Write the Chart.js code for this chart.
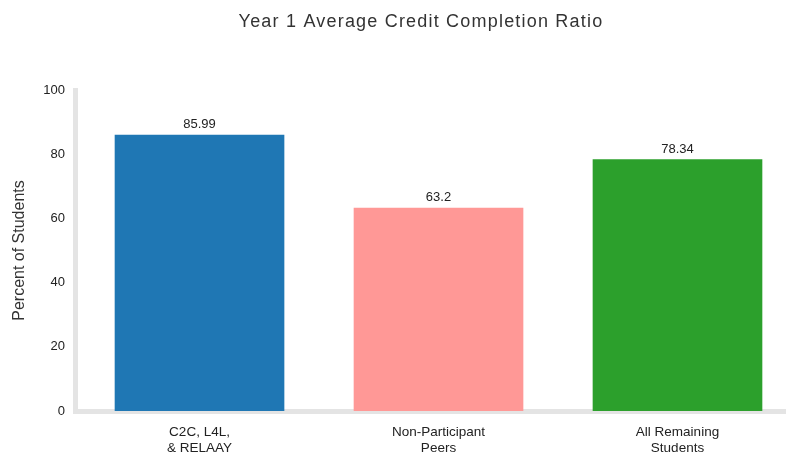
<!DOCTYPE html>
<html>
<head>
<meta charset="utf-8">
<script src="https://cdn.jsdelivr.net/npm/chart.js@4"></script>
<style>
  html, body { margin: 0; padding: 0; background: #fff; }
  #wrap { width: 786px; height: 453px; }
</style>
</head>
<body>
<div id="wrap"><canvas id="myChart"></canvas></div>
<script>
// chart data
var groups = [["C2C, L4L,", "& RELAAY"], ["Non-Participant", "Peers"], ["All Remaining", "Students"]];
var ratios = [85.99, 63.2, 78.34];
var barColors = ["#1f77b4", "#ff9896", "#2ca02c"];
var yTicks = [0, 20, 40, 60, 80, 100];

var titleText = "Year 1 Average Credit Completion Ratio";
var fontFam = "'Liberation Sans', Arial, sans-serif";

// title drawn at fixed spot, values above bars
var labelsPlugin = {
    id: "labels",
    afterDatasetsDraw: function(chart) {
        var ctx = chart.ctx;
        ctx.save();
        ctx.fillStyle = "#333";
        ctx.font = "18px " + fontFam;
        ctx.letterSpacing = "1.2px";
        ctx.textAlign = "center";
        ctx.textBaseline = "middle";
        ctx.fillText(titleText, 421, 22);
        ctx.letterSpacing = "0px";

        ctx.fillStyle = "#222";
        ctx.font = "13px " + fontFam;
        ctx.textBaseline = "bottom";
        chart.getDatasetMeta(0).data.forEach(function(bar, i) {
            ctx.fillText(String(ratios[i]), bar.x, bar.y - 4);
        });
        ctx.restore();
    }
};

var data = {
    datasets: [{
        data: ratios.map(function(v, i) { return {x: i, y: v}; }),
        backgroundColor: barColors,
        barThickness: 169,
        borderWidth: 0
    }]
};

var options = {
    responsive: true,
    maintainAspectRatio: false,
    animation: false,
    layout: { padding: { top: 90, right: 0, bottom: 0, left: 0 } },
    plugins: {
        legend: { display: false },
        title: { display: false },
        tooltip: { enabled: false }
    },
    scales: {
        x: {
            type: "linear",
            offset: false,
            min: -0.521,
            max: 2.454,
            grid: { display: false, drawTicks: false },
            border: { display: true, color: "#e4e4e4", width: 5 },
            afterBuildTicks: function(scale) {
                scale.ticks = groups.map(function(g, i) { return {value: i}; });
            },
            afterFit: function(scale) { scale.height = 42; },
            ticks: {
                autoSkip: false,
                maxRotation: 0,
                padding: 13,
                color: "#222",
                font: { family: fontFam, size: 13.5, lineHeight: 1.2 },
                callback: function(v) { return groups[v]; }
            }
        },
        y: {
            min: 0,
            max: 100,
            grid: { display: false, drawTicks: false },
            border: { display: true, color: "#e4e4e4", width: 5 },
            afterBuildTicks: function(scale) {
                scale.ticks = yTicks.map(function(v) { return {value: v}; });
            },
            afterFit: function(scale) { scale.width = 75; },
            ticks: {
                padding: 10,
                color: "#222",
                font: { family: fontFam, size: 13 }
            },
            title: {
                display: true,
                text: "Percent of Students",
                color: "#333",
                padding: { top: 10, bottom: 12 },
                font: { family: fontFam, size: 16 }
            }
        }
    }
};

var ctx = document.getElementById("myChart");
var myChart = new Chart(ctx, {
    type: "bar",
    data: data,
    options: options,
    plugins: [labelsPlugin]
});
</script>
</body>
</html>
